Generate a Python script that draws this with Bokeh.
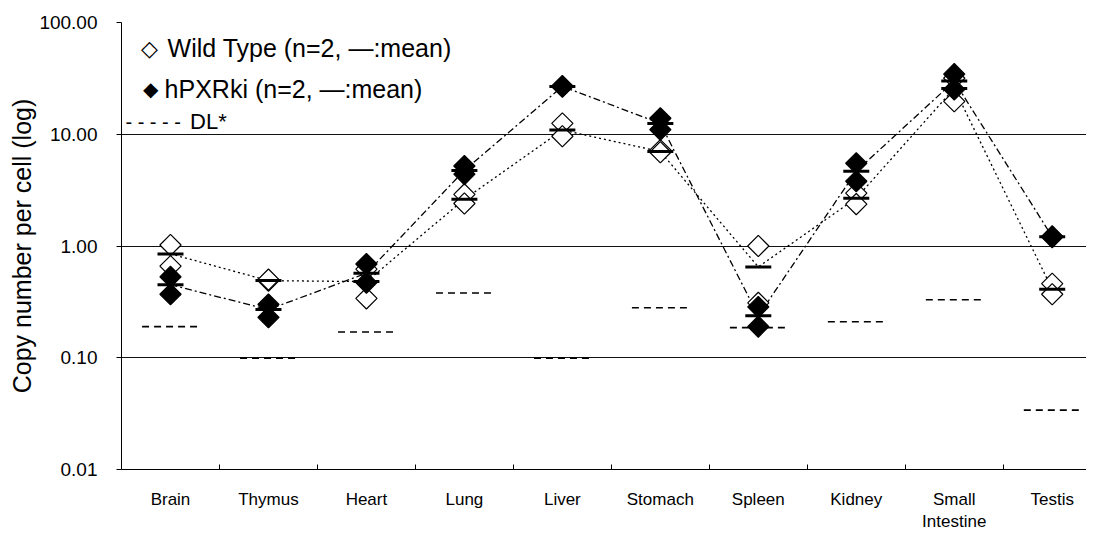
import numpy as np
from bokeh.plotting import figure
from bokeh.models import Range1d, FixedTicker, NumeralTickFormatter, Label
from bokeh.embed import file_html
from bokeh.resources import INLINE

categories = ["Brain", "Thymus", "Heart", "Lung", "Liver", "Stomach",
              "Spleen", "Kidney", "Small\nIntestine", "Testis"]

# Wild type replicates and mean
wt_rep1 = [1.02, 0.49, 0.34, 2.90, 12.5, 7.2, 1.00, 2.97, 19.7, 0.46]
wt_rep2 = [0.66, 0.50, 0.62, 2.40, 9.6, 6.9, 0.31, 2.37, 31.7, 0.37]
wt_mean = [0.85, 0.49, 0.48, 2.62, 10.9, 7.0, 0.65, 2.68, 25.7, 0.41]

# hPXRki replicates and mean
ki_rep1 = [0.53, 0.30, 0.69, 5.20, 27.0, 13.9, 0.285, 5.50, 34.5, 1.22]
ki_rep2 = [0.37, 0.23, 0.47, 4.40, 26.6, 11.0, 0.19, 3.80, 25.2, 1.20]
ki_mean = [0.45, 0.27, 0.57, 4.75, 26.8, 12.5, 0.237, 4.67, 29.9, 1.21]

# detection limit
dl = [0.19, 0.099, 0.17, 0.38, 0.099, 0.28, 0.186, 0.21, 0.33, 0.034]

y_ticks = [0.01, 0.1, 1, 10, 100]
FONT = "Liberation Sans"

x = np.arange(1, len(categories) + 1)

p = figure(width=1086, height=534, y_axis_type="log", title=None,
           x_range=Range1d(0.5, 10.35), y_range=Range1d(0.01, 100),
           output_backend="svg", toolbar_location=None,
           min_border_left=121, min_border_top=22, min_border_bottom=65,
           min_border_right=0)
p.outline_line_color = None
p.background_fill_color = "white"
p.border_fill_color = "white"

p.xgrid.visible = False
p.ygrid.ticker = FixedTicker(ticks=[0.1, 1, 10, 100])
p.ygrid.grid_line_color = "#111111"
p.ygrid.grid_line_width = 1
p.yaxis.ticker = FixedTicker(ticks=y_ticks, minor_ticks=[])
p.yaxis.formatter = NumeralTickFormatter(format="0.00")
p.yaxis.major_tick_out = 5
p.yaxis.major_tick_in = 0
p.yaxis.minor_tick_line_color = None
p.yaxis.axis_line_color = "black"
p.yaxis.major_label_text_font = FONT
p.yaxis.major_label_text_font_size = "19px"
p.yaxis.major_label_text_color = "black"
p.yaxis.major_label_standoff = 19
p.yaxis.axis_label = "Copy number per cell (log)"
p.yaxis.axis_label_text_font = FONT
p.yaxis.axis_label_text_font_style = "normal"
p.yaxis.axis_label_text_font_size = "25px"
p.yaxis.axis_label_text_color = "black"
p.yaxis.axis_label_standoff = 0

p.xaxis.ticker = FixedTicker(ticks=list(x), minor_ticks=list(x[:-1] + 0.5))
p.xaxis.major_label_overrides = {int(i): c for i, c in zip(x, categories)}
p.xaxis.major_tick_in = 0
p.xaxis.major_tick_out = 0
p.xaxis.minor_tick_in = 5
p.xaxis.minor_tick_out = 0
p.xaxis.minor_tick_line_color = "black"
p.xaxis.axis_line_color = "black"
p.xaxis.major_label_text_font = FONT
p.xaxis.major_label_text_font_size = "17px"
p.xaxis.major_label_text_color = "black"
p.xaxis.major_label_standoff = 20

# detection limits
p.segment(x0=x - 0.29, x1=x + 0.29, y0=dl, y1=dl, line_color="black",
          line_width=1.6, line_dash="7 5")

# connecting lines through means
p.line(x, wt_mean, line_color="black", line_width=1.3, line_dash="2 3")
p.line(x, ki_mean, line_color="black", line_width=1.3, line_dash="7 3 2 3")

# replicates
for rep in (wt_rep1, wt_rep2):
    p.scatter(x, rep, marker="square", angle=np.pi / 4, size=15,
              fill_color="white", line_color="black", line_width=1.2)
for rep in (ki_rep1, ki_rep2):
    p.scatter(x, rep, marker="square", angle=np.pi / 4, size=15,
              fill_color="black", line_color="black", line_width=1.2)

# means
p.scatter(x, wt_mean, marker="dash", size=26, line_color="black", line_width=3)
p.scatter(x, ki_mean, marker="dash", size=26, line_color="black", line_width=3)

# legend (text box)
def lab(xv, yv, t, size, font=FONT):
    p.add_layout(Label(x=xv, y=yv, text=t, text_font=font,
                       text_font_size=size, text_baseline="middle",
                       text_align="left", text_color="black"))

lab(0.70, 58.6, "\u25c7", "22px", "DejaVu Sans")
lab(0.97, 58.6, "Wild Type (n=2, \u2014:mean)", "25px")
lab(0.72, 25.2, "\u25c6", "20px", "DejaVu Sans")
lab(0.94, 25.2, "hPXRki (n=2, \u2014:mean)", "25px")
lab(0.54, 12.9, "- - - - -", "20px")
lab(1.20, 12.9, "DL*", "22px")

open("out.html", "w").write(file_html(p, INLINE))
